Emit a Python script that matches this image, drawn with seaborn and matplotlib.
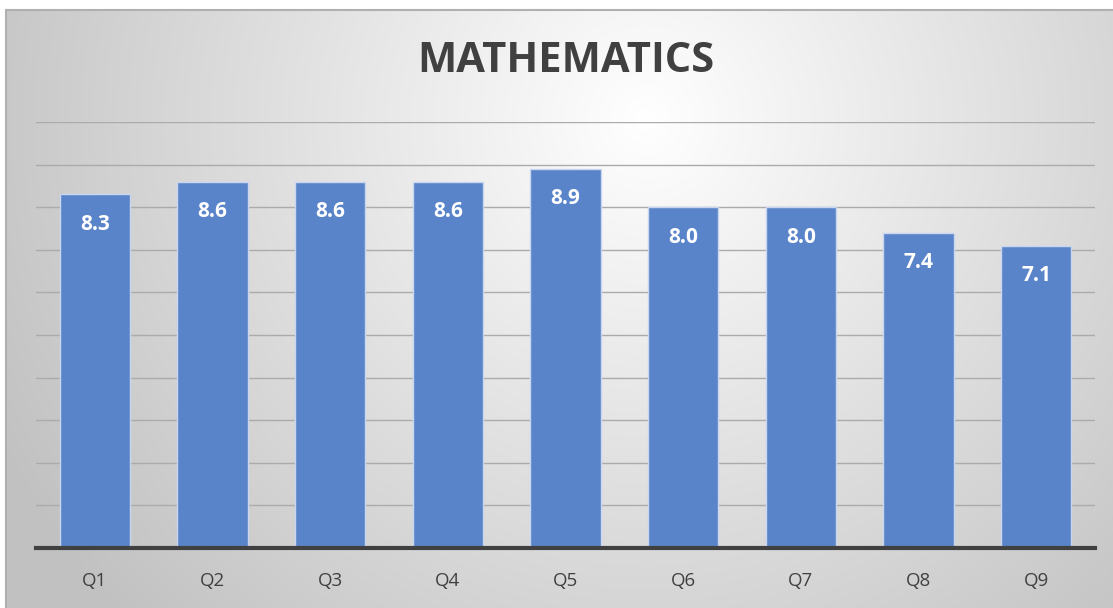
import numpy as np
import pandas as pd
import matplotlib
matplotlib.use("Agg")
import matplotlib.pyplot as plt
import seaborn as sns

categories = ["Q1", "Q2", "Q3", "Q4", "Q5", "Q6", "Q7", "Q8", "Q9"]
values = [8.3, 8.6, 8.6, 8.6, 8.9, 8.0, 8.0, 7.4, 7.1]
title = "MATHEMATICS"

sns.set_style("white")
plt.rcParams['font.family'] = ['Open Sans', 'DejaVu Sans']

W, H = 1113, 608
fig = plt.figure(figsize=(W / 100, H / 100), dpi=100)
fig.patch.set_facecolor("white")

# gradient background panel
bg = fig.add_axes([6 / W, 0, 1 - 6 / W, 1 - 10 / H])
bg.set_axis_off()
yy, xx = np.mgrid[0:600, 0:1107]
cx, cy = 640, 110
d = np.sqrt((xx - cx) ** 2 + (yy - cy) ** 2)
t = np.clip(d / 720, 0, 1)
lo, hi = 0.76, 1.0
g = hi - (hi - lo) * t
img = np.dstack([g, g, g])
bg.imshow(img, aspect="auto", extent=[0, 1, 0, 1], origin="upper")
bg.set_xlim(0, 1)
bg.set_ylim(0, 1)
bg.plot([0, 0], [0, 1], color="#b0b0b0", lw=1.5, transform=bg.transAxes, clip_on=False)
bg.plot([0, 1], [1, 1], color="#b0b0b0", lw=1.5, transform=bg.transAxes, clip_on=False)

df = pd.DataFrame({"cat": categories, "val": values})
ax = fig.add_axes([36 / W, 1 - 548 / H, (1095 - 36) / W, (548 - 122) / H])
ax.patch.set_alpha(0)
sns.barplot(data=df, x="cat", y="val", ax=ax, color="#5a84c9", saturation=1,
            width=0.6, edgecolor="#c8d6ee", linewidth=1, zorder=3)
ax.set_ylim(0, 10)
ax.set_xlim(-0.5, len(categories) - 0.5)
ax.set_yticks(np.arange(1, 11))
ax.yaxis.grid(True, color="#ababab", lw=1)
ax.set_axisbelow(True)
ax.tick_params(axis="y", left=False, labelleft=False)
ax.tick_params(axis="x", bottom=False, labelsize=13.5, colors="#404040", pad=13.5)
ax.set_xlabel("")
ax.set_ylabel("")
for s in ["left", "right", "top"]:
    ax.spines[s].set_visible(False)
ax.spines["bottom"].set_color("#404040")
ax.spines["bottom"].set_linewidth(3)
ax.spines["bottom"].set_zorder(5)

for i, v in enumerate(values):
    ax.annotate(f"{v:.1f}", (i, v), xytext=(0, -21.5), textcoords="offset points",
                ha="center", va="center", color="white", fontsize=15, fontweight="bold", zorder=6)

fig.text(566 / W, 1 - 62 / H, title, ha="center", va="center", fontsize=30,
         fontweight="bold", color="#404040")

fig.savefig("out.png", dpi=100)
